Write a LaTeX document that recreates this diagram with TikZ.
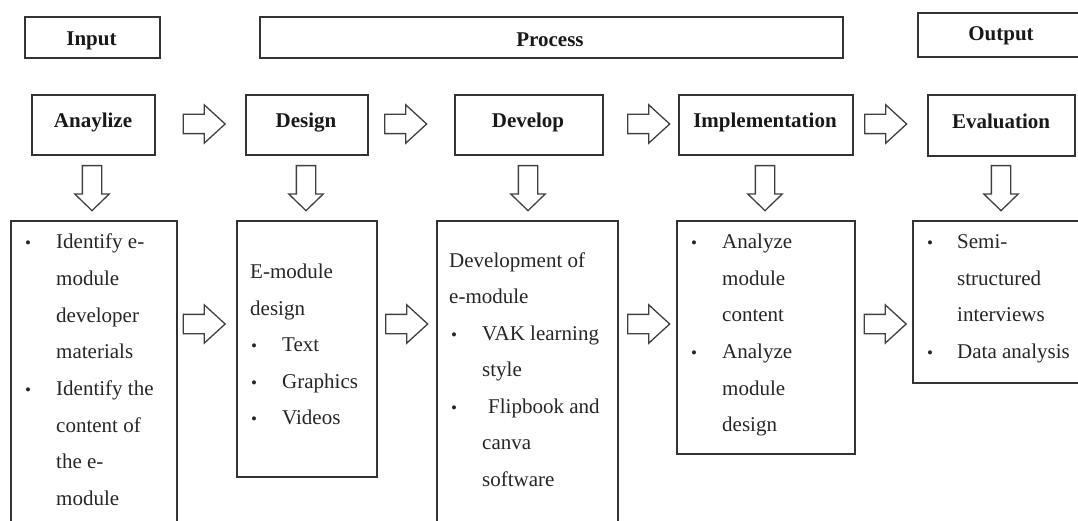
\documentclass[tikz,border=0pt]{standalone}
\usepackage{fontspec}
\setmainfont{Liberation Serif}
\usetikzlibrary{shapes.arrows}
\begin{document}
\begin{tikzpicture}[x=1pt,y=-1pt,
  box/.style={draw=black!80, line width=1.7pt, inner sep=0pt, anchor=north west},
  lbl/.style={font=\fontsize{21}{25}\selectfont\bfseries, anchor=base, inner sep=0pt, text=black!90},
  txt/.style={font=\fontsize{21}{25}\selectfont, anchor=base west, inner sep=0pt, text=black!85},
  bul/.style={font=\fontsize{17}{20}\selectfont, anchor=base, inner sep=0pt, text=black!85},
  harrow/.style={single arrow, draw=black!75, line width=1.3pt, inner xsep=0pt, inner ysep=9pt,
    single arrow head extend=9.5pt, minimum height=42pt, single arrow tip angle=85, anchor=tail},
  varrow/.style={single arrow, draw=black!75, line width=1.3pt, inner xsep=9pt, inner ysep=0pt,
    single arrow head extend=7.5pt, minimum height=45pt, single arrow tip angle=92,
    shape border rotate=270, anchor=tail}
]
\useasboundingbox (0,0) rectangle (1078,521);
\clip (0,0) rectangle (1078,521);

% header boxes
\node[box, minimum width=135pt, minimum height=41pt] (inbox) at (24,16) {};
\node[box, minimum width=583pt, minimum height=41pt] (procbox) at (259,16) {};
\node[box, minimum width=180pt, minimum height=44pt] (outbox) at (917,12) {};
\node[lbl] (tin) at (91.5,46) {Input};
\node[lbl] (tproc) at (550,47) {Process};
\node[lbl] (tout) at (1001,41) {Output};

% phase boxes
\node[box, minimum width=123pt, minimum height=60pt] (ana) at (31,94) {};
\node[box, minimum width=122pt, minimum height=60pt] (des) at (245,94) {};
\node[box, minimum width=148pt, minimum height=60pt] (dev) at (454,94) {};
\node[box, minimum width=174pt, minimum height=60pt] (imp) at (678,94) {};
\node[box, minimum width=147pt, minimum height=61pt] (eva) at (927,94) {};
\node[lbl] (tana) at (93,128) {Anaylize};
\node[lbl] (tdes) at (306,128) {Design};
\node[lbl] (tdev) at (528,128) {Develop};
\node[lbl] (timp) at (765,128) {Implementation};
\node[lbl] (teva) at (1001,129) {Evaluation};

% top arrows
\node[harrow] (ha1) at (182.5,124) {};
\node[harrow] (ha2) at (384,124) {};
\node[harrow] (ha3) at (627,124) {};
\node[harrow] (ha4) at (864,124) {};

% down arrows
\node[varrow] (va1) at (92,165) {};
\node[varrow] (va2) at (306,165) {};
\node[varrow] (va3) at (528,165) {};
\node[varrow] (va4) at (765,165) {};
\node[varrow] (va5) at (1001,165) {};

% bottom boxes
\node[box, minimum width=166pt, minimum height=320pt] (b1) at (10,220) {};
\node[box, minimum width=140pt, minimum height=256pt] (b2) at (236,220) {};
\node[box, minimum width=181pt, minimum height=320pt] (b3) at (436,220) {};
\node[box, minimum width=178pt, minimum height=233pt] (b4) at (676,220) {};
\node[box, minimum width=200pt, minimum height=162pt] (b5) at (912,220) {};

% bottom arrows
\node[harrow] (hb1) at (182.5,324) {};
\node[harrow] (hb2) at (385,324) {};
\node[harrow] (hb3) at (627,324) {};
\node[harrow] (hb4) at (863.5,324) {};

% box 1 text
\node[bul] (b1u1) at (28,249) {•};
\node[txt] (b1l1) at (56,249) {Identify e-};
\node[txt] (b1l2) at (56,285.6) {module};
\node[txt] (b1l3) at (56,322.2) {developer};
\node[txt] (b1l4) at (56,358.8) {materials};
\node[bul] (b1u2) at (28,395.4) {•};
\node[txt] (b1l5) at (56,395.4) {Identify the};
\node[txt] (b1l6) at (56,432) {content of};
\node[txt] (b1l7) at (56,468.6) {the e-};
\node[txt] (b1l8) at (56,505.2) {module};

% box 2 text
\node[txt] (b2l1) at (250,278.5) {E-module};
\node[txt] (b2l2) at (250,315) {design};
\node[bul] (b2u1) at (254,351.5) {•};
\node[txt] (b2l3) at (282,351.5) {Text};
\node[bul] (b2u2) at (254,388) {•};
\node[txt] (b2l4) at (282,388) {Graphics};
\node[bul] (b2u3) at (254,424.5) {•};
\node[txt] (b2l5) at (282,424.5) {Videos};

% box 3 text
\node[txt] (b3l1) at (449,267) {Development of};
\node[txt] (b3l2) at (449,303.5) {e-module};
\node[bul] (b3u1) at (454,340) {•};
\node[txt] (b3l3) at (482,340) {VAK learning};
\node[txt] (b3l4) at (482,376.5) {style};
\node[bul] (b3u2) at (454,413) {•};
\node[txt] (b3l5) at (488,413) {Flipbook and};
\node[txt] (b3l6) at (482,449.5) {canva};
\node[txt] (b3l7) at (482,486) {software};

% box 4 text
\node[bul] (b4u1) at (694,248.6) {•};
\node[txt] (b4l1) at (722,248.6) {Analyze};
\node[txt] (b4l2) at (722,285.2) {module};
\node[txt] (b4l3) at (722,321.8) {content};
\node[bul] (b4u2) at (694,358.4) {•};
\node[txt] (b4l4) at (722,358.4) {Analyze};
\node[txt] (b4l5) at (722,395) {module};
\node[txt] (b4l6) at (722,431.6) {design};

% box 5 text
\node[bul] (b5u1) at (930,248.6) {•};
\node[txt] (b5l1) at (957,248.6) {Semi-};
\node[txt] (b5l2) at (957,285.2) {structured};
\node[txt] (b5l3) at (957,321.8) {interviews};
\node[bul] (b5u2) at (930,358.4) {•};
\node[txt] (b5l4) at (957,358.4) {Data analysis};
\end{tikzpicture}
\end{document}
